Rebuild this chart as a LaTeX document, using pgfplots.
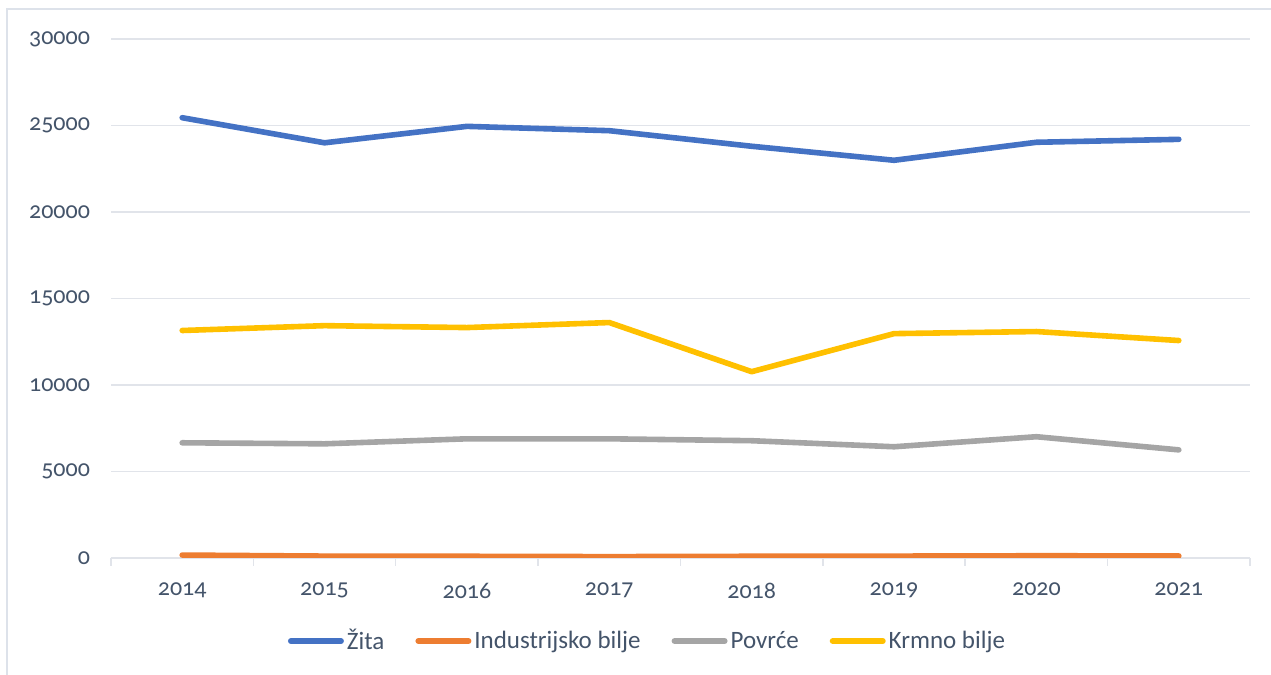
\documentclass[border=0pt]{standalone}
\usepackage{fontspec}
\setmainfont{Carlito}
\newfontfamily\numfont[Numbers=OldStyle]{Carlito}
\usepackage{pgfplots}
\pgfplotsset{compat=1.18}
\definecolor{cBlue}{HTML}{4472C4}
\definecolor{cOrange}{HTML}{ED7D31}
\definecolor{cGray}{HTML}{A5A5A5}
\definecolor{cYellow}{HTML}{FFC000}
\definecolor{txt}{HTML}{44546A}
\definecolor{gridc}{HTML}{E1E4EA}
\definecolor{framec}{HTML}{DDE2EA}
\begin{document}
\begin{tikzpicture}
\useasboundingbox (0pt,0pt) rectangle (635.5pt,337.5pt);
\draw[framec, line width=1pt] (3.5pt,0pt) -- (3.5pt,333pt) -- (635.5pt,333pt);
\begin{axis}[
  at={(55.5pt,58.5pt)}, anchor=south west,
  scale only axis, width=569.5pt, height=259.5pt,
  xmin=-0.5, xmax=7.5, ymin=0, ymax=30000,
  xtick={0,...,7},
  xticklabels={2014,2015,2016,2017,2018,2019,2020,2021},
  minor xtick={-0.5,0.5,...,7.5},
  major tick length=0pt, minor tick length=4pt,
  tick align=outside,
  ytick={0,5000,...,30000},
  ymajorgrids, grid style={gridc, line width=0.75pt},
  axis x line*=bottom, axis y line*=left,
  x axis line style={-, gridc, line width=0.75pt},
  y axis line style={draw=none},
  minor x tick style={gridc, line width=0.75pt},
  major tick style={draw=none},
  scaled y ticks=false,
  /pgf/number format/assume math mode=true,
  yticklabel={\pgfmathprintnumber[fixed,precision=0,1000 sep={}]{\tick}},
  xticklabel style={font=\numfont\fontsize{12}{14}\selectfont, text=txt, yshift=-9pt},
  yticklabel style={font=\numfont\fontsize{12}{14}\selectfont, text=txt, xshift=-7pt},
  every axis plot/.append style={line width=2.8pt, line cap=round, line join=round, mark=none},
  legend columns=4,
  legend style={draw=none, fill=none, at={(0.155,-0.16)}, anchor=west,
    font=\fontsize{12.5}{14}\selectfont, text=txt,
    /tikz/every even column/.append style={column sep=14pt},
    inner sep=0pt, nodes={inner sep=1.5pt}},
  legend image code/.code={\draw[#1, line width=3pt, line cap=round] (0pt,0pt) -- (25pt,0pt);},
]
\addplot[cBlue] coordinates {(0,25450) (1,24000) (2,24950) (3,24700) (4,23800) (5,22990) (6,24030) (7,24200)};
\addlegendentry{Žita}
\addplot[cOrange] coordinates {(0,170) (1,110) (2,100) (3,80) (4,100) (5,110) (6,130) (7,120)};
\addlegendentry{Industrijsko bilje}
\addplot[cGray] coordinates {(0,6660) (1,6600) (2,6890) (3,6890) (4,6780) (5,6430) (6,7010) (7,6250)};
\addlegendentry{Povrće}
\addplot[cYellow] coordinates {(0,13150) (1,13430) (2,13320) (3,13610) (4,10770) (5,12970) (6,13090) (7,12570)};
\addlegendentry{Krmno bilje}
\end{axis}
\end{tikzpicture}
\end{document}
